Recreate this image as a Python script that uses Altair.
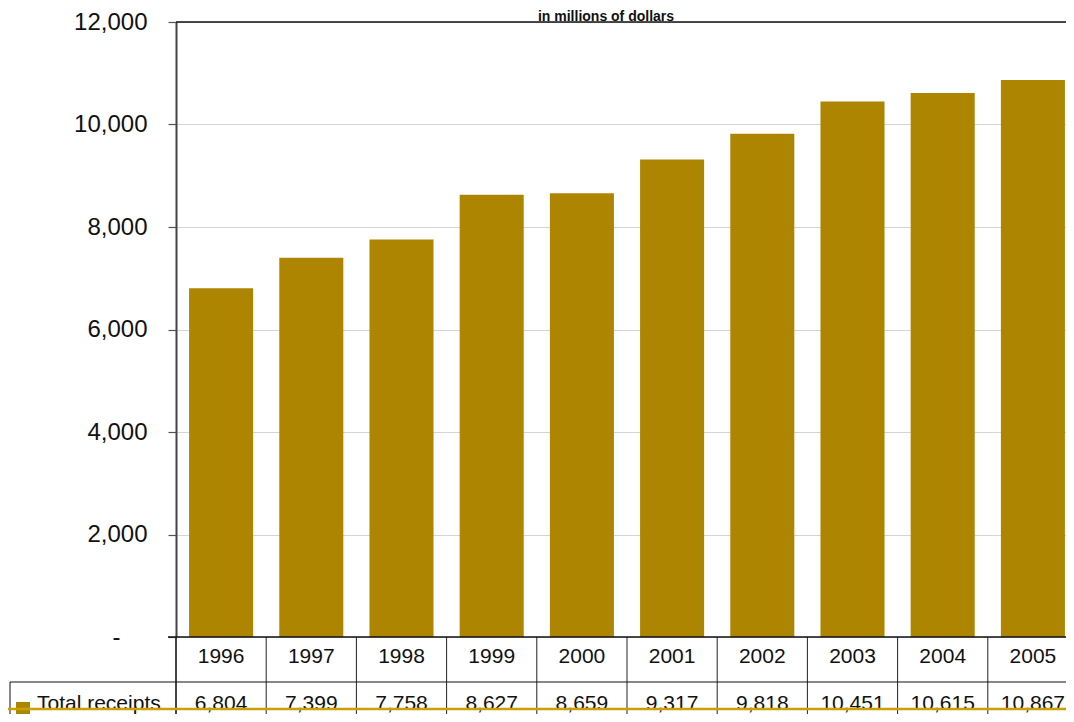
import altair as alt
import pandas as pd

years = ["1996", "1997", "1998", "1999", "2000", "2001", "2002", "2003", "2004", "2005"]
receipts = [6804, 7399, 7758, 8627, 8659, 9317, 9818, 10451, 10615, 10867]
y_ticks = [0, 2000, 4000, 6000, 8000, 10000, 12000]
title_text = "in millions of dollars"
series_name = "Total receipts"

BAR = "#AE8500"
LINE_GOLD = "#C9A000"
SANS = "Liberation Sans, Arial, sans-serif"

df = pd.DataFrame({"year": years, "value": receipts})
df["label"] = [f"{v:,}" for v in receipts]
one = pd.DataFrame({"k": [0]})

PI, PO = 0.29, 0.145
xscale = alt.Scale(paddingInner=PI, paddingOuter=PO)
xenc = alt.X("year:N", sort=years, axis=None, scale=xscale)
W = 902
step = W / (len(years) - PI + 2 * PO)
half_gap = step * PI / 2

bars = alt.Chart(df).mark_bar(color=BAR).encode(
    x=xenc,
    y=alt.Y("value:Q", title=None,
            scale=alt.Scale(domain=[0, 12000], nice=False),
            axis=alt.Axis(values=y_ticks,
                          labelExpr="datum.value == 0 ? '-' : format(datum.value, ',')",
                          grid=True, gridColor="#D4D4D4", gridWidth=1,
                          tickColor="#555555", tickSize=8, tickWidth=1.2,
                          domainColor="#444444", domainWidth=2,
                          labelFont=SANS, labelFontSize=24, labelColor="#111111",
                          labelPadding={"condition": {"test": "datum.value == 0", "value": 48},
                                        "value": 21})),
)

year_text = alt.Chart(df).mark_text(font=SANS, fontSize=21, color="#111111",
                                    baseline="middle", align="center").encode(
    x=xenc, y=alt.value(635), text="year:N")

value_text = alt.Chart(df).mark_text(font=SANS, fontSize=21, color="#111111",
                                     baseline="middle", align="center").encode(
    x=xenc, y=alt.value(682), text="label:N")

dividers = alt.Chart(df).mark_rule(color="#222222", strokeWidth=1, xOffset=-half_gap).encode(
    x=alt.X("year:N", sort=years, axis=None, bandPosition=0, scale=xscale),
    y=alt.value(615), y2=alt.value(760))

bottom_line = alt.Chart(one).mark_rule(color="#111111", strokeWidth=1.5).encode(
    x=alt.value(-8), x2=alt.value(910), y=alt.value(615))
top_line = alt.Chart(one).mark_rule(color="#111111", strokeWidth=1.5).encode(
    x=alt.value(0), x2=alt.value(910), y=alt.value(0))
row_line = alt.Chart(one).mark_rule(color="#111111", strokeWidth=1).encode(
    x=alt.value(-166), x2=alt.value(910), y=alt.value(660))
left_box = alt.Chart(one).mark_rule(color="#111111", strokeWidth=1).encode(
    x=alt.value(-166), y=alt.value(660), y2=alt.value(760))
axis_ext = alt.Chart(one).mark_rule(color="#444444", strokeWidth=2).encode(
    x=alt.value(0), y=alt.value(615), y2=alt.value(760))

swatch = alt.Chart(one).mark_rect(color=BAR).encode(
    x=alt.value(-160), x2=alt.value(-146), y=alt.value(680), y2=alt.value(695))
series_label = alt.Chart(one).mark_text(font=SANS, fontSize=21, color="#111111",
                                        align="left", baseline="middle").encode(
    x=alt.value(-139), y=alt.value(682), text=alt.value(series_name))

gold_line = alt.Chart(one).mark_rule(color=LINE_GOLD, strokeWidth=2.5).encode(
    x=alt.value(-176), x2=alt.value(910), y=alt.value(687))

title = alt.Chart(one).mark_text(font=SANS, fontSize=14, fontWeight="bold",
                                 color="#111111", align="center",
                                 baseline="alphabetic").encode(
    x=alt.value(430), y=alt.value(-1.3), text=alt.value(title_text))

chart = alt.layer(
    bars, dividers, axis_ext, bottom_line, top_line, row_line, left_box,
    year_text, value_text, swatch, series_label, gold_line, title
).properties(
    width=W, height=615,
    autosize=alt.AutoSizeParams(type="none"),
    padding={"left": 168, "top": 14, "right": -12, "bottom": 77},
).configure_view(stroke=None).configure(background="white")

chart.save("out.html", embed_options={"renderer": "svg", "actions": False})
